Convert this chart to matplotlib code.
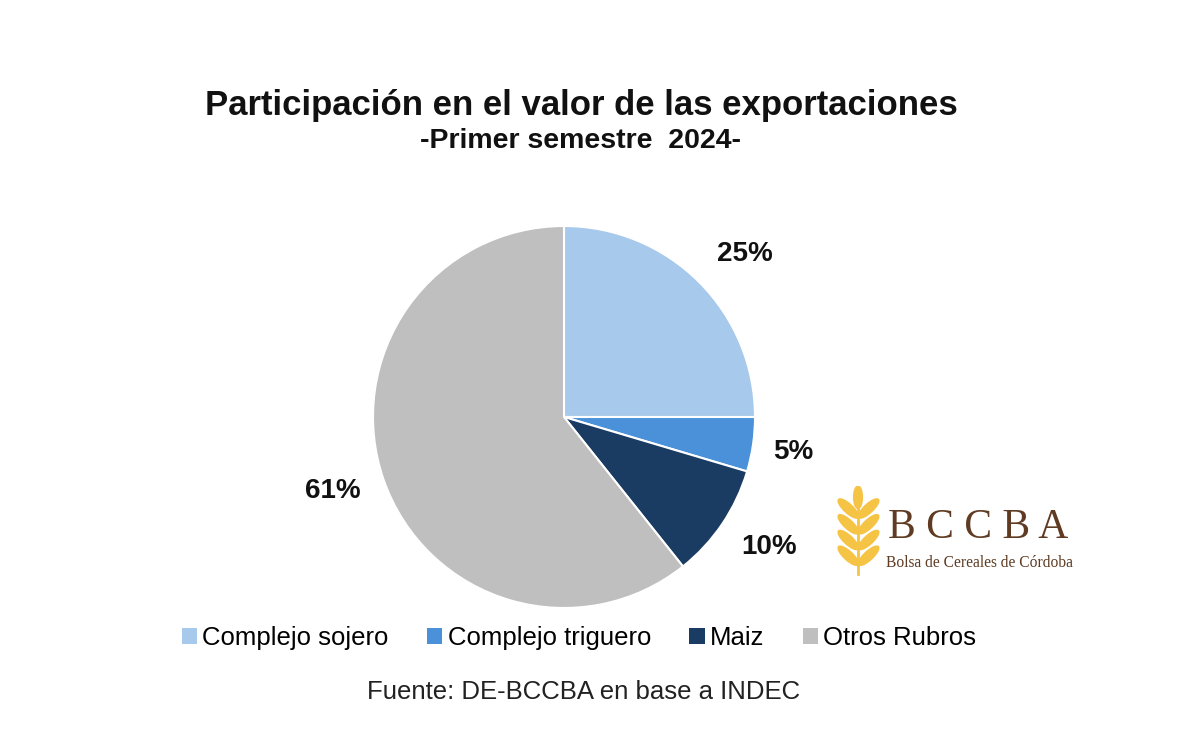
import matplotlib
matplotlib.use("Agg")
import matplotlib.pyplot as plt
from matplotlib.patches import Patch, Ellipse

categories = ["Complejo sojero", "Complejo triguero", "Maiz", "Otros Rubros"]
values = [25.0, 4.6, 9.7, 60.7]
pct_labels = ["25%", "5%", "10%", "61%"]
colors = ["#A7C9EB", "#4A91DA", "#1A3B62", "#BFBFBF"]

title = "Participación en el valor de las exportaciones"
subtitle = "-Primer semestre  2024-"
source = "Fuente: DE-BCCBA en base a INDEC"

SANS = ["Liberation Sans", "DejaVu Sans"]

fig = plt.figure(figsize=(12, 7.56), dpi=100)
W, H = 1200, 756
cx, cy, R = 564, 417, 191
half = 300
ax = fig.add_axes([(cx - half) / W, (H - cy - half) / H, 2 * half / W, 2 * half / H])
lim = half / R
ax.pie(values, colors=colors, startangle=90, counterclock=False,
       radius=1, wedgeprops=dict(edgecolor="white", linewidth=1.5))
ax.set_xlim(-lim, lim)
ax.set_ylim(-lim, lim)
ax.axis("off")

# label positions (pixel positions in reference, converted to data units)
label_px = [(745, 254), (793, 452), (769, 547), (333, 491)]
for lab, (px, py) in zip(pct_labels, label_px):
    ax.text((px - cx) / R, (cy - py) / R, lab, ha="center", va="center",
            fontsize=20, fontweight="bold", family=SANS, color="#111111")

fig.text(581 / W, 1 - 105 / H, title, ha="center", va="center", fontsize=25,
         fontweight="bold", family=SANS, color="#111111")
fig.text(581 / W, 1 - 141 / H, subtitle, ha="center", va="center", fontsize=20.5,
         fontweight="bold", family=SANS, color="#111111")

handles = [Patch(facecolor=c, edgecolor="none") for c in colors]
fig.legend(handles, categories, loc="center", bbox_to_anchor=(579 / W, 1 - 638 / H),
           ncol=4, frameon=False, handlelength=0.6, handleheight=0.6,
           handletextpad=0.2, columnspacing=1.5, prop=dict(family=SANS, size=18.5))

fig.text(584 / W, 1 - 692 / H, source, ha="center", va="center", fontsize=18.5,
         family=SANS, color="#222222")

# logo
fig.text(978 / W, 1 - 528 / H, "B C C B A", ha="center", va="center", fontsize=30,
         family=["Liberation Serif", "DejaVu Serif"], color="#5E3B22")
fig.text(979 / W, 1 - 563 / H, "Bolsa de Cereales de Córdoba", ha="center", va="center",
         fontsize=11.2, family=["Liberation Serif", "DejaVu Serif"], color="#5E3B22")
lax = fig.add_axes([836 / W, 1 - 576 / H, 44 / W, 90 / H])
lax.set_xlim(0, 1)
lax.set_ylim(0, 2)
lax.axis("off")
gold = "#F5C445"
lax.plot([0.5, 0.5], [0.05, 1.6], color=gold, lw=2)
lax.add_patch(Ellipse((0.5, 1.75), 0.2, 0.5, color=gold))
for yv in [1.4, 1.05, 0.7, 0.35]:
    lax.add_patch(Ellipse((0.28, yv + 0.1), 0.2, 0.6, angle=48, color=gold))
    lax.add_patch(Ellipse((0.74, yv + 0.1), 0.2, 0.6, angle=-48, color=gold))

fig.savefig("out.png", dpi=100, facecolor="white")
